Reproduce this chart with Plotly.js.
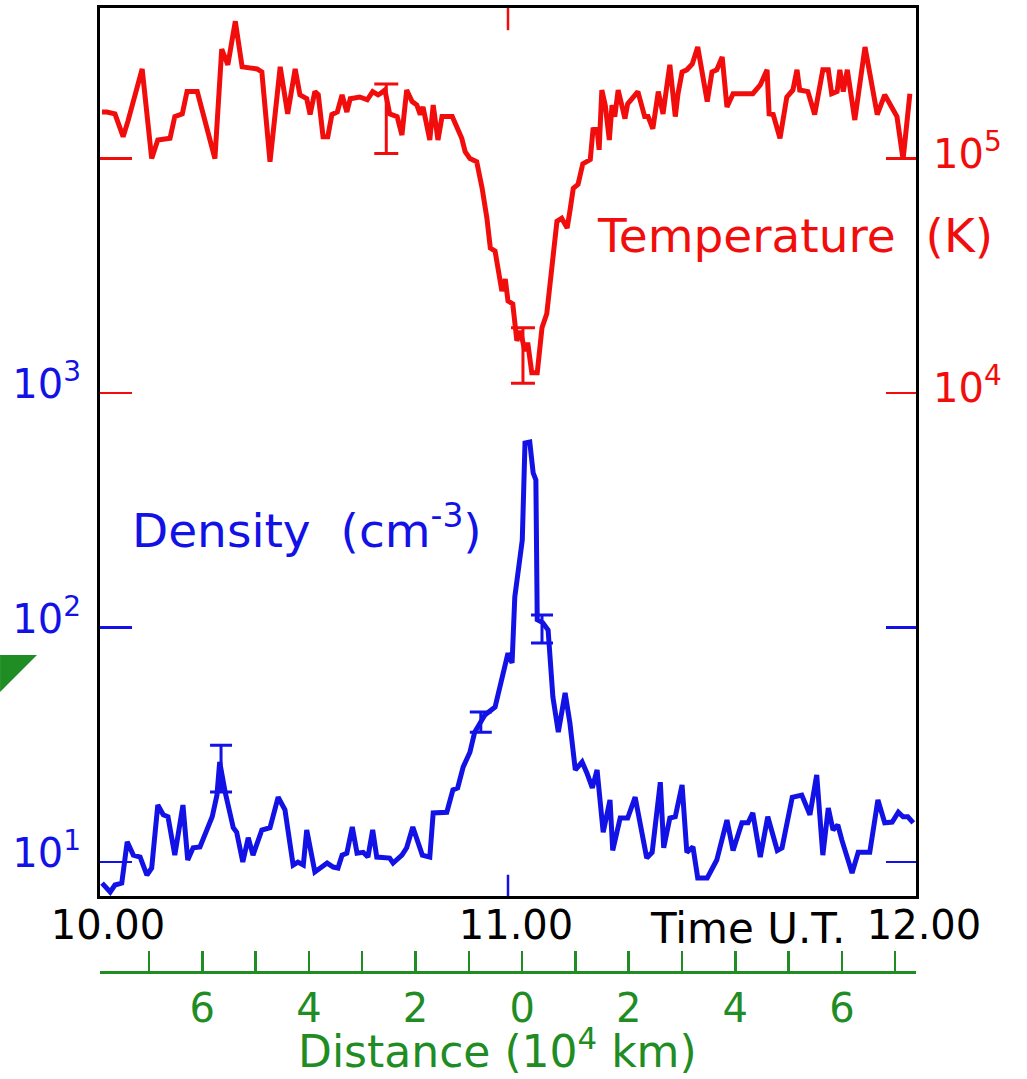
<!DOCTYPE html>
<html>
<head>
<meta charset="utf-8">
<script src="https://cdn.plot.ly/plotly-3.0.1.min.js"></script>
<style>html,body{margin:0;padding:0;background:#fff;}#chart{width:1027px;height:1079px;}</style>
</head>
<body>
<div id="chart"></div>
<script>
// Time in minutes after 10.00 UT
const timeT = [
 0.3,1.0,2.2,3.4,4.1,6.2,7.6,8.5,10.3,11.0,
 12.1,12.8,14.3,16.9,17.9,18.8,19.9,20.9,23.1,23.8,
 25.0,26.5,27.6,28.7,29.4,30.4,30.9,31.6,32.1,32.8,
 33.5,34.1,34.9,35.6,36.3,36.8,38.2,39.3,40.1,40.9,
 41.2,41.9,42.6,43.7,44.4,45.1,45.9,46.6,47.1,47.5,
 48.5,49.0,49.7,50.3,51.8,52.2,52.6,53.2,53.7,54.4,
 55.4,56.2,56.9,57.4,58.1,59.1,59.6,60.0,60.7,61.3,
 61.8,62.5,62.9,63.5,64.3,65.0,65.7,66.5,67.2,67.9,
 68.7,69.1,69.6,70.3,71.0,72.1,72.5,73.1,73.4,73.8,
 74.3,74.9,75.3,75.7,76.2,77.2,77.6,79.1,80.1,80.6,
 81.3,82.1,82.8,83.2,83.8,84.6,85.0,85.6,86.3,87.1,
 87.9,89.3,90.0,90.7,91.5,92.2,93.1,96.0,97.1,98.1,
 98.4,99.0,100.0,101.0,101.9,102.5,102.9,104.1,105.1,106.3,
 107.1,107.6,108.4,108.8,109.3,109.9,111.0,112.5,114.3,115.4,
 117.2,118.1,119.1];
// Temperature (K)
const tempK = [
 158000,158000,155000,124000,144000,241000,100000,120000,122000,151000,
 155000,193000,193000,100000,293000,251000,385000,246000,241000,234000,
 97000,246000,155000,241000,187000,180000,154000,193000,187000,124000,
 124000,154000,158000,187000,158000,180000,183000,178000,193000,187000,
 189000,196000,155000,151000,126000,196000,175000,169000,154000,166000,
 120000,169000,120000,151000,151000,141000,134000,122000,107000,100000,
 97000,74600,55600,41500,40300,27200,30600,24700,24000,16700,
 18400,15100,16400,12200,12200,19000,21800,36500,54000,55600,
 50500,59600,74600,77600,95000,99000,133000,134000,109000,196000,
 169000,120000,169000,151000,196000,148000,171000,193000,151000,151000,
 134000,193000,155000,189000,251000,151000,189000,234000,239000,253000,
 299000,175000,234000,239000,271000,166000,189000,189000,206000,239000,
 155000,154000,122000,183000,196000,239000,196000,193000,154000,239000,
 239000,189000,193000,239000,193000,239000,146000,299000,154000,187000,
 151000,99000,189000];

const timeN = [
 0.3,1.5,2.2,3.2,4.0,4.9,5.9,6.9,7.6,8.5,
 9.3,10.0,11.0,12.2,12.9,13.7,14.7,16.5,17.2,17.6,
 18.4,19.6,20.1,21.0,21.8,22.5,23.8,25.0,26.2,27.2,
 28.4,29.1,29.9,30.4,31.6,33.4,34.3,35.0,35.6,36.3,
 37.1,37.8,38.7,39.4,40.1,40.7,42.6,43.1,44.4,45.1,
 46.0,47.4,48.5,49.0,51.0,51.9,52.6,53.4,54.4,55.1,
 55.9,56.6,58.1,59.3,60.0,60.6,61.0,62.1,62.5,63.2,
 63.7,64.1,64.3,65.1,65.9,66.6,67.4,68.4,69.1,69.9,
 70.9,71.6,72.4,73.1,74.0,75.0,75.4,76.5,77.6,78.7,
 79.4,80.4,81.2,82.4,82.9,83.8,84.6,85.6,86.3,87.2,
 87.9,89.3,90.7,92.2,93.1,94.4,95.3,96.0,97.1,98.2,
 99.6,100.3,101.8,103.2,104.4,105.4,106.3,107.1,107.8,108.5,
 109.1,110.6,111.5,113.2,114.4,115.4,116.5,117.4,118.1,118.8,
 119.6];
// Density (cm^-3)
const densN = [
 8.13,7.45,7.98,8.13,12.2,10.7,10.5,8.80,9.43,17.5,
 15.9,15.6,10.7,17.5,10.2,11.5,11.6,15.6,19.3,26.7,
 19.9,14.0,13.4,10.0,12.7,10.7,13.7,14.0,18.9,16.7,
 9.71,10.0,9.71,13.7,9.07,9.90,9.52,9.43,10.7,10.9,
 14.1,10.9,11.0,10.5,13.7,10.5,10.4,9.90,10.7,11.5,
 14.1,10.7,10.5,16.2,16.3,20.3,20.7,25.4,29.4,35.8,
 39.2,42.4,45.8,64.0,77.8,70.6,135,236,612,618,
 456,426,108,105,97.5,50.6,35.8,52.6,39.2,24.7,
 26.7,24.0,20.7,24.7,13.4,18.4,11.2,15.4,15.4,18.9,
 15.1,10.4,11.0,21.9,11.5,15.4,15.6,21.3,11.0,11.6,
 8.55,8.55,10.2,15.1,11.2,14.7,14.7,16.2,10.5,15.6,
 11.2,11.5,18.9,19.3,15.9,23.5,10.7,17.0,13.7,14.4,
 12.4,8.98,11.0,11.0,18.4,14.7,14.8,16.3,15.6,15.6,
 14.7];

// Error bars
const errTimeT = [42.1, 62.2];
const errTempK = [148000, 14400];
const errTempHi = [208000, 19000];
const errTempLo = [105000, 11000];
const errTimeN = [17.8, 56.0, 65.0];
const errDens = [25.2, 39.5, 98.5];
const errDensHi = [31.5, 43.6, 113];
const errDensLo = [19.9, 35.8, 85.9];

// Axis ticks
const timeTicks = [0, 60, 120];
const timeLabels = ['10.00', '11.00', '12.00'];
const densTicks = [10, 100, 1000];
const densLabels = ['10<sup>1</sup>', '10<sup>2</sup>', '10<sup>3</sup>'];
const densMarkTicks = [10, 100];
const tempTicks = [1e4, 1e5];
const tempLabels = ['10<sup>4</sup>', '10<sup>5</sup>'];
const distTicks = [-6, -4, -2, 0, 2, 4, 6];
const distLabels = ['6', '4', '2', '0', '2', '4', '6'];
const distMinorTicks = [-7, -5, -3, -1, 1, 3, 5, 7];

const RED = '#f20d0d', BLUE = '#1212e6', GREEN = '#1f8c24', FONT = 'DejaVu Sans';
const densRange = [0.855, 4.642];
const tempRange = [1.855, 5.642];
const yDom = [0.0788, 1];

const traces = [
  {x: timeN, y: densN, type: 'scatter', mode: 'lines', xaxis: 'x', yaxis: 'y',
   line: {color: BLUE, width: 5}, hoverinfo: 'skip', showlegend: false},
  {x: timeT, y: tempK, type: 'scatter', mode: 'lines', xaxis: 'x', yaxis: 'y2',
   line: {color: RED, width: 5}, hoverinfo: 'skip', showlegend: false},
  {x: errTimeT, y: errTempK, type: 'scatter', mode: 'markers', xaxis: 'x', yaxis: 'y3',
   marker: {size: 1, color: RED},
   error_y: {type: 'data', symmetric: false,
     array: errTempHi.map((v, i) => v - errTempK[i]),
     arrayminus: errTempK.map((v, i) => v - errTempLo[i]),
     color: RED, thickness: 3, width: 12},
   hoverinfo: 'skip', showlegend: false},
  {x: errTimeN, y: errDens, type: 'scatter', mode: 'markers', xaxis: 'x', yaxis: 'y4',
   marker: {size: 1, color: BLUE},
   error_y: {type: 'data', symmetric: false,
     array: errDensHi.map((v, i) => v - errDens[i]),
     arrayminus: errDens.map((v, i) => v - errDensLo[i]),
     color: BLUE, thickness: 3, width: 11},
   hoverinfo: 'skip', showlegend: false},
  {x: distTicks, y: distTicks.map(() => null), type: 'scatter', mode: 'lines',
   xaxis: 'x2', yaxis: 'y', hoverinfo: 'skip', showlegend: false}
];

const layout = {
  width: 1027, height: 1079,
  margin: {l: 100, r: 111, t: 8, b: 107},
  paper_bgcolor: '#fff', plot_bgcolor: '#fff',
  font: {family: FONT},
  showlegend: false,
  xaxis: {
    range: [0, 120], anchor: 'y', showgrid: false, zeroline: false,
    showline: true, linecolor: '#000', linewidth: 3, mirror: true,
    tickvals: timeTicks, ticktext: timeLabels, ticks: '',
    tickfont: {size: 40, color: '#000', family: FONT},
    ticklabelshift: 8, ticklabelstandoff: -8
  },
  xaxis2: {
    overlaying: 'x', anchor: 'free', position: 0, side: 'bottom',
    range: [-7.92, 7.39], showgrid: false, zeroline: false,
    showline: true, linecolor: GREEN, linewidth: 3,
    tickvals: distTicks, ticktext: distLabels,
    ticks: 'inside', ticklen: 20, tickwidth: 2.5, tickcolor: GREEN,
    minor: {tickvals: distMinorTicks, ticks: 'inside', ticklen: 20, tickwidth: 2.5, tickcolor: GREEN},
    tickfont: {size: 40, color: GREEN, family: FONT}, ticklabelstandoff: 0
  },
  yaxis: {
    type: 'log', range: densRange, domain: yDom, anchor: 'x', side: 'left',
    showgrid: false, zeroline: false,
    showline: true, linecolor: '#000', linewidth: 3, mirror: true,
    tickvals: densTicks, ticktext: densLabels,
    ticks: 'inside', ticklen: 32, tickwidth: 2.5, tickcolor: BLUE,
    tickfont: {size: 40, color: BLUE, family: FONT},
    ticklabelshift: -9, ticklabelstandoff: 8
  },
  yaxis2: {
    type: 'log', range: tempRange, domain: yDom, overlaying: 'y', side: 'right', anchor: 'x',
    showgrid: false, zeroline: false, showline: false,
    tickvals: tempTicks, ticktext: tempLabels,
    ticks: 'inside', ticklen: 30, tickwidth: 2.5, tickcolor: RED,
    tickfont: {size: 40, color: RED, family: FONT},
    ticklabelshift: -5, ticklabelstandoff: 16
  },
  yaxis3: {
    type: 'log', range: tempRange, domain: yDom, overlaying: 'y', side: 'left', anchor: 'x',
    showgrid: false, zeroline: false, showline: false,
    tickvals: tempTicks, showticklabels: false,
    ticks: 'inside', ticklen: 32, tickwidth: 2.5, tickcolor: RED
  },
  yaxis4: {
    type: 'log', range: densRange, domain: yDom, overlaying: 'y', side: 'right', anchor: 'x',
    showgrid: false, zeroline: false, showline: false,
    tickvals: densMarkTicks, showticklabels: false,
    ticks: 'inside', ticklen: 30, tickwidth: 2.5, tickcolor: BLUE
  },
  shapes: [
    {type: 'line', xref: 'x', yref: 'y domain', x0: 60, x1: 60, y0: 0, y1: 0.024,
     line: {color: BLUE, width: 2.5}},
    {type: 'line', xref: 'x', yref: 'y domain', x0: 60, x1: 60, y0: 0.975, y1: 1,
     line: {color: RED, width: 2.5}},
    {type: 'path', xref: 'paper', yref: 'paper',
     path: 'M -0.1225 0.3288 L -0.0772 0.3288 L -0.1225 0.2905 Z',
     fillcolor: GREEN, line: {width: 0}}
  ],
  annotations: [
    {text: 'Temperature&nbsp;&nbsp;(K)', xref: 'paper', yref: 'paper', x: 0.607, y: 0.7645,
     xanchor: 'left', yanchor: 'middle', showarrow: false,
     font: {size: 47, color: RED, family: FONT}},
    {text: 'Density&nbsp;&nbsp;(cm<sup>-3</sup>)', xref: 'paper', yref: 'paper', x: 0.0368, y: 0.4616,
     xanchor: 'left', yanchor: 'middle', showarrow: false,
     font: {size: 47, color: BLUE, family: FONT}},
    {text: 'Time U.T.', xref: 'paper', yref: 'paper', x: 0.7935, y: 0.0456,
     xanchor: 'center', yanchor: 'middle', showarrow: false,
     font: {size: 42, color: '#000', family: FONT}},
    {text: 'Distance (10<sup>4</sup> km)', xref: 'paper', yref: 'paper', x: 0.4877, y: -0.079,
     xanchor: 'center', yanchor: 'middle', showarrow: false,
     font: {size: 44, color: GREEN, family: FONT}}
  ]
};

Plotly.newPlot('chart', traces, layout, {staticPlot: true, displayModeBar: false});
</script>
</body>
</html>
